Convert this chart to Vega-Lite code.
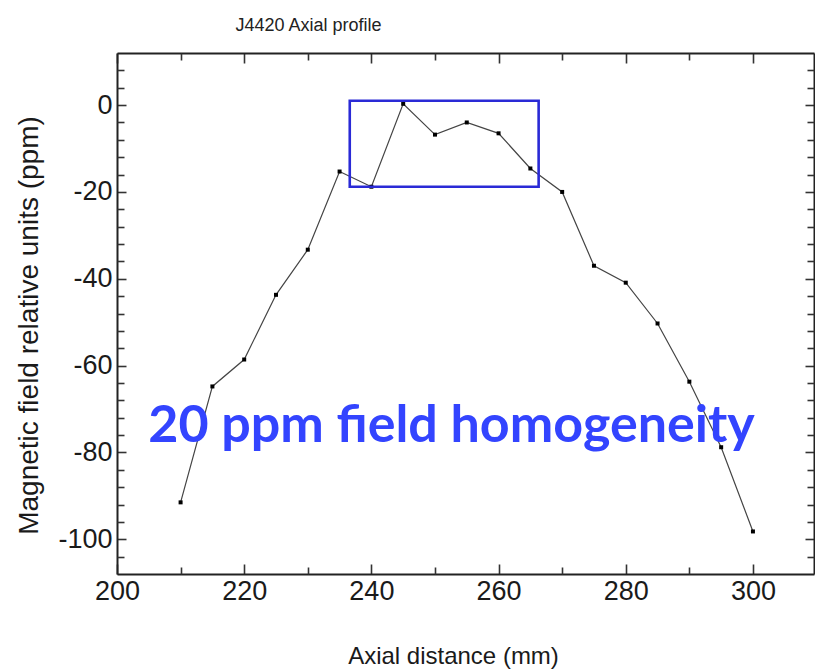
{
  "$schema": "https://vega.github.io/schema/vega-lite/v6.json",
  "width": 697,
  "height": 521,
  "autosize": {"type": "none"},
  "padding": {"left": 117, "top": 53, "right": 1, "bottom": 95},
  "background": "white",
  "config": {
    "view": {"stroke": null},
    "axis": {"grid": false, "labelFont": "Liberation Sans", "titleFont": "Liberation Sans", "labelColor": "#1a1a1a", "titleColor": "#1a1a1a", "tickColor": "#333333", "domainColor": "#222222", "domainWidth": 2, "tickWidth": 1.6}
  },
  "title": {
    "text": "J4420 Axial profile",
    "font": "Liberation Sans",
    "fontSize": 18,
    "fontWeight": "normal",
    "color": "#222222",
    "anchor": "middle",
    "frame": "group",
    "dx": -157,
    "dy": 17,
    "baseline": "alphabetic",
    "offset": 20
  },
  "datasets": {
    "profile": [
      {"x": 210, "y": -91.5},
      {"x": 215, "y": -64.8},
      {"x": 220, "y": -58.6},
      {"x": 225, "y": -43.7},
      {"x": 230, "y": -33.3},
      {"x": 235, "y": -15.3},
      {"x": 240, "y": -18.8},
      {"x": 245, "y": 0.3},
      {"x": 250, "y": -6.8},
      {"x": 255, "y": -4.0},
      {"x": 260, "y": -6.5},
      {"x": 265, "y": -14.6},
      {"x": 270, "y": -20.0},
      {"x": 275, "y": -37.0},
      {"x": 280, "y": -40.9},
      {"x": 285, "y": -50.3},
      {"x": 290, "y": -63.7},
      {"x": 295, "y": -78.8},
      {"x": 300, "y": -98.2}
    ],
    "box": [{"x1": 236.6, "x2": 266.3, "y1": 1.0, "y2": -18.8}],
    "note": [{"x": 252.6, "y": -77.7, "label": "20 ppm field homogeneity"}]
  },
  "resolve": {"axis": {"x": "independent", "y": "independent"}},
  "layer": [
    {
      "data": {"name": "profile"},
      "mark": {"type": "line", "color": "#444444", "strokeWidth": 1.2},
      "encoding": {
        "x": {"field": "x", "type": "quantitative", "scale": {"domain": [200, 309.6], "nice": false, "zero": false},
          "axis": {"orient": "bottom", "values": [200, 220, 240, 260, 280, 300], "labelExpr": "'' + datum.value", "tickSize": -10, "labelPadding": 14, "labelFontSize": 27, "labelFlush": false, "labelOverlap": false, "domain": true, "title": "Axial distance (mm)", "titleFontSize": 24, "titleFontWeight": "normal", "titleX": 336, "titleY": 89, "titleBaseline": "alphabetic", "titleAnchor": null, "titleAlign": "center"}},
        "y": {"field": "y", "type": "quantitative", "scale": {"domain": [-108, 12], "nice": false, "zero": false},
          "axis": {"orient": "left", "values": [0, -20, -40, -60, -80, -100], "labelExpr": "'' + datum.value", "tickSize": -9, "labelPadding": 14, "labelFontSize": 27, "labelFlush": false, "labelOverlap": false, "domain": true, "title": "Magnetic field relative units (ppm)", "titleFontSize": 28, "titleFontWeight": "normal", "titleX": -80, "titleY": 272, "titleBaseline": "alphabetic", "titleAngle": -90, "titleAnchor": null, "titleAlign": "center"}}
      }
    },
    {
      "data": {"name": "profile"},
      "mark": {"type": "point", "shape": "square", "filled": true, "color": "#000000", "size": 16, "opacity": 1},
      "encoding": {
        "x": {"field": "x", "type": "quantitative", "scale": {"domain": [200, 309.6], "nice": false, "zero": false},
          "axis": {"orient": "bottom", "values": [210, 230, 250, 270, 290], "tickSize": -7, "labels": false, "domain": false, "title": null}},
        "y": {"field": "y", "type": "quantitative", "scale": {"domain": [-108, 12], "nice": false, "zero": false},
          "axis": {"orient": "left", "values": [8, 4, -4, -8, -12, -16, -24, -28, -32, -36, -44, -48, -52, -56, -64, -68, -72, -76, -84, -88, -92, -96, -104], "tickSize": -7, "labels": false, "domain": false, "title": null}}
      }
    },
    {
      "data": {"name": "box"},
      "mark": {"type": "rect", "fill": null, "filled": false, "stroke": "#2a2ad6", "strokeWidth": 2.6},
      "encoding": {
        "x": {"field": "x1", "type": "quantitative", "scale": {"domain": [200, 309.6], "nice": false, "zero": false},
          "axis": {"orient": "top", "values": [200, 220, 240, 260, 280, 300], "tickSize": -10, "labels": false, "domain": true, "title": null}},
        "x2": {"field": "x2"},
        "y": {"field": "y1", "type": "quantitative", "scale": {"domain": [-108, 12], "nice": false, "zero": false},
          "axis": {"orient": "right", "values": [0, -20, -40, -60, -80, -100], "tickSize": -9, "labels": false, "domain": true, "title": null}},
        "y2": {"field": "y2"}
      }
    },
    {
      "data": {"name": "note"},
      "mark": {"type": "text", "font": "Lato", "fontWeight": "bold", "fontSize": 52, "color": "#3344ff", "align": "center", "baseline": "alphabetic"},
      "encoding": {
        "text": {"field": "label"},
        "x": {"field": "x", "type": "quantitative", "scale": {"domain": [200, 309.6], "nice": false, "zero": false},
          "axis": {"orient": "top", "values": [210, 230, 250, 270, 290], "tickSize": -7, "labels": false, "domain": false, "title": null}},
        "y": {"field": "y", "type": "quantitative", "scale": {"domain": [-108, 12], "nice": false, "zero": false},
          "axis": {"orient": "right", "values": [8, 4, -4, -8, -12, -16, -24, -28, -32, -36, -44, -48, -52, -56, -64, -68, -72, -76, -84, -88, -92, -96, -104], "tickSize": -7, "labels": false, "domain": false, "title": null}}
      }
    }
  ]
}
